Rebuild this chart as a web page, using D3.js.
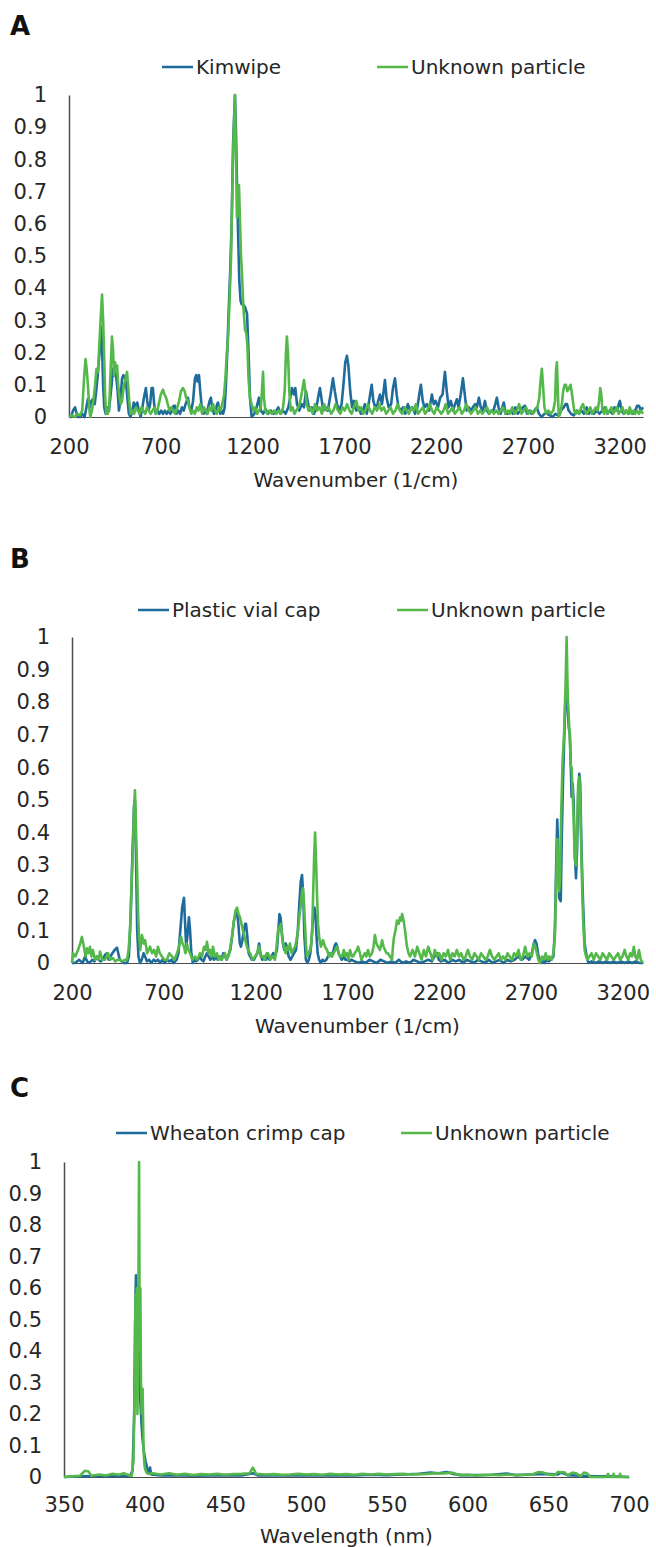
<!DOCTYPE html>
<html lang="en">
<head>
    <meta charset="utf-8">
    <title>Raman spectra comparison</title>
    <script src="https://d3js.org/d3.v7.min.js"></script>
    <style>
        html, body {
            margin: 0;
            padding: 0;
            background: #fff;
        }
        text {
            font-family: "DejaVu Sans", sans-serif;
            font-size: 20px;
            fill: #262626;
        }
        .panel-letter {
            font-size: 26px;
            font-weight: bold;
            fill: #111;
        }
        path.spec {
            fill: none;
            stroke-width: 2.6px;
            stroke-linejoin: round;
        }
        .axis .domain {
            stroke: #4d4d4d;
        }
    </style>
</head>
<body>
<script type="text/javascript">

    // ---- data ----
    var wnTicks = [200, 700, 1200, 1700, 2200, 2700, 3200];
    var nmTicks = [350, 400, 450, 500, 550, 600, 650, 700];
    var yTicks = [0, 0.1, 0.2, 0.3, 0.4, 0.5, 0.6, 0.7, 0.8, 0.9, 1];

    // A: Kimwipe [wavenumber, normalized intensity]
    var kimwipe = [[200,0],[212,0],[222,0.02],[233,0.03],[242,0.01],[252,0],[262,0],[272,0.01],[285,0],[295,0.03],[303,0.056],[312,0.03],[322,0.05],[331,0.056],[340,0.04],[348,0.08],[355,0.12],[362,0.17],[368,0.21],[375,0.28],[381,0.2],[386,0.1],[392,0.03],[400,0.01],[410,0.03],[418,0.02],[425,0.06],[432,0.1],[440,0.15],[446,0.13],[451,0.14],[458,0.12],[465,0.08],[472,0.02],[480,0.05],[489,0.12],[496,0.13],[505,0.12],[512,0.1],[518,0.06],[526,0.01],[535,0],[545,0.02],[553,0.045],[562,0.03],[572,0.045],[580,0.02],[590,0],[600,0.03],[608,0.06],[619,0.09],[626,0.05],[634,0.02],[642,0.04],[650,0.09],[657,0.09],[664,0.04],[672,0.01],[682,0.02],[692,0.01],[702,0.02],[712,0.01],[722,0.02],[732,0.01],[742,0.02],[752,0.01],[762,0.02],[770,0.035],[777,0.035],[785,0.01],[795,0.02],[805,0.01],[815,0.03],[825,0.02],[835,0.04],[848,0.06],[856,0.03],[866,0.02],[876,0.05],[886,0.12],[893,0.13],[900,0.11],[908,0.13],[915,0.08],[923,0.03],[932,0.01],[942,0.02],[950,0.01],[958,0.03],[966,0.05],[973,0.06],[980,0.03],[990,0.01],[1000,0.02],[1007,0.04],[1012,0.045],[1018,0.02],[1025,0.01],[1033,0.02],[1040,0.01],[1048,0.03],[1055,0.1],[1062,0.2],[1070,0.33],[1078,0.45],[1086,0.6],[1094,0.85],[1104,1],[1110,0.88],[1116,0.7],[1122,0.55],[1128,0.42],[1135,0.36],[1141,0.35],[1148,0.35],[1160,0.34],[1170,0.32],[1178,0.2],[1186,0.06],[1195,0],[1210,0.01],[1222,0.03],[1235,0.06],[1245,0.02],[1258,0.01],[1270,0.025],[1285,0.01],[1300,0.02],[1315,0.01],[1330,0.02],[1340,0.03],[1352,0.01],[1365,0.02],[1380,0.01],[1395,0.03],[1405,0.06],[1415,0.09],[1425,0.07],[1433,0.09],[1442,0.04],[1455,0.02],[1468,0.04],[1480,0.03],[1491,0.08],[1500,0.05],[1510,0.02],[1522,0.03],[1535,0.01],[1548,0.03],[1560,0.07],[1567,0.09],[1575,0.06],[1585,0.02],[1598,0.03],[1610,0.02],[1625,0.07],[1638,0.12],[1648,0.08],[1660,0.04],[1672,0.02],[1685,0.04],[1695,0.1],[1705,0.17],[1714,0.19],[1722,0.16],[1732,0.08],[1742,0.03],[1752,0.05],[1765,0.02],[1780,0.03],[1790,0.01],[1800,0.02],[1812,0.04],[1822,0.01],[1835,0.05],[1849,0.1],[1858,0.05],[1868,0.03],[1880,0.04],[1894,0.07],[1905,0.04],[1914,0.08],[1921,0.115],[1930,0.06],[1942,0.03],[1955,0.04],[1965,0.09],[1976,0.12],[1985,0.07],[1995,0.03],[2008,0.02],[2020,0.03],[2032,0.01],[2046,0.04],[2058,0.02],[2070,0.03],[2085,0.01],[2098,0.03],[2108,0.07],[2117,0.1],[2127,0.05],[2137,0.03],[2150,0.04],[2162,0.02],[2177,0.07],[2187,0.04],[2197,0.05],[2210,0.03],[2222,0.06],[2235,0.07],[2248,0.14],[2258,0.08],[2268,0.03],[2280,0.05],[2292,0.02],[2303,0.04],[2313,0.055],[2322,0.03],[2334,0.07],[2346,0.12],[2356,0.07],[2366,0.02],[2378,0.03],[2390,0.02],[2400,0.03],[2412,0.04],[2422,0.03],[2433,0.06],[2443,0.03],[2455,0.02],[2466,0.05],[2476,0.02],[2488,0.01],[2500,0.02],[2512,0.02],[2522,0.04],[2531,0.06],[2540,0.03],[2552,0.01],[2560,0.03],[2569,0.045],[2578,0.01],[2590,0.01],[2605,0.02],[2618,0.01],[2632,0.03],[2645,0.01],[2660,0.02],[2672,0.03],[2684,0.035],[2695,0.01],[2708,0.02],[2720,0.01],[2735,0.02],[2749,0.03],[2760,0.01],[2775,0],[2790,0.01],[2805,0.01],[2820,0.005],[2835,0],[2850,0.01],[2865,0.005],[2880,0.02],[2895,0.03],[2905,0.04],[2913,0.04],[2922,0.02],[2935,0.01],[2950,0.005],[2965,0.02],[2978,0.01],[2992,0.02],[3005,0.01],[3020,0.03],[3032,0.01],[3045,0.02],[3060,0.01],[3075,0.02],[3090,0.01],[3105,0.02],[3120,0.03],[3132,0.01],[3145,0.02],[3160,0.01],[3172,0.03],[3185,0.02],[3195,0.04],[3201,0.05],[3210,0.02],[3222,0.01],[3235,0.02],[3248,0.01],[3260,0.02],[3272,0.01],[3285,0.02],[3295,0.035],[3305,0.035],[3315,0.02],[3327,0.03]];

    // A: Unknown particle
    var unknownA = [[200,0],[215,0.005],[230,0],[245,0.01],[260,0.005],[272,0.02],[282,0.12],[290,0.18],[296,0.15],[303,0.1],[310,0.03],[316,0],[325,0.02],[335,0.06],[342,0.1],[350,0.15],[358,0.14],[365,0.22],[372,0.3],[380,0.38],[386,0.3],[391,0.2],[397,0.06],[403,0.01],[412,0.01],[420,0.04],[427,0.15],[434,0.25],[440,0.21],[445,0.13],[451,0.17],[457,0.14],[462,0.16],[468,0.1],[475,0.06],[482,0.04],[489,0.05],[495,0.08],[500,0.1],[508,0.12],[516,0.14],[522,0.1],[528,0.05],[535,0.01],[545,0.02],[555,0.01],[565,0.03],[575,0.02],[585,0.01],[595,0.03],[605,0.02],[615,0.01],[625,0.03],[635,0.02],[645,0.01],[655,0.02],[665,0.03],[675,0.01],[685,0.03],[693,0.05],[700,0.07],[712,0.085],[720,0.07],[729,0.06],[738,0.04],[748,0.02],[758,0.03],[768,0.02],[778,0.01],[790,0.03],[800,0.05],[810,0.08],[821,0.09],[830,0.08],[838,0.06],[848,0.05],[856,0.03],[866,0.01],[876,0.02],[886,0.01],[896,0.03],[905,0.02],[915,0.04],[925,0.01],[935,0.03],[945,0.02],[955,0.01],[965,0.03],[975,0.02],[985,0.04],[995,0.02],[1005,0.01],[1015,0.03],[1025,0.02],[1035,0.04],[1045,0.07],[1052,0.12],[1060,0.2],[1066,0.24],[1074,0.35],[1083,0.5],[1093,0.8],[1104,1],[1110,0.8],[1115,0.62],[1120,0.66],[1126,0.72],[1131,0.62],[1137,0.5],[1142,0.45],[1150,0.34],[1159,0.27],[1166,0.26],[1172,0.22],[1178,0.12],[1186,0.06],[1195,0.04],[1205,0.02],[1215,0.03],[1225,0.01],[1235,0.02],[1245,0.03],[1251,0.08],[1257,0.14],[1262,0.06],[1270,0.02],[1280,0.01],[1292,0.02],[1305,0.01],[1318,0.02],[1330,0.01],[1342,0.02],[1355,0.01],[1366,0.03],[1375,0.08],[1382,0.2],[1387,0.25],[1393,0.2],[1400,0.08],[1408,0.02],[1418,0.03],[1428,0.01],[1438,0.02],[1450,0.03],[1460,0.05],[1470,0.08],[1480,0.115],[1488,0.08],[1496,0.04],[1505,0.02],[1515,0.03],[1528,0.01],[1540,0.04],[1552,0.02],[1565,0.03],[1578,0.01],[1590,0.04],[1602,0.02],[1615,0.03],[1628,0.01],[1640,0.02],[1652,0.04],[1665,0.02],[1678,0.01],[1690,0.03],[1702,0.02],[1715,0.04],[1728,0.02],[1740,0.01],[1752,0.03],[1765,0.05],[1778,0.02],[1790,0.03],[1802,0.01],[1815,0.02],[1828,0.04],[1840,0.02],[1852,0.01],[1865,0.03],[1878,0.02],[1890,0.04],[1902,0.02],[1915,0.03],[1928,0.01],[1940,0.02],[1952,0.03],[1965,0.01],[1978,0.02],[1990,0.04],[2002,0.02],[2015,0.01],[2028,0.03],[2040,0.02],[2052,0.01],[2065,0.03],[2078,0.02],[2090,0.04],[2102,0.01],[2115,0.02],[2128,0.03],[2140,0.01],[2152,0.02],[2165,0.04],[2178,0.02],[2190,0.01],[2202,0.03],[2215,0.02],[2228,0.01],[2240,0.02],[2252,0.04],[2265,0.01],[2278,0.02],[2290,0.03],[2302,0.01],[2315,0.02],[2328,0.03],[2340,0.01],[2352,0.02],[2365,0.04],[2378,0.02],[2390,0.01],[2402,0.02],[2415,0.03],[2428,0.01],[2440,0.02],[2452,0.01],[2465,0.02],[2478,0.03],[2490,0.01],[2502,0.02],[2515,0.01],[2528,0.02],[2540,0.01],[2552,0.02],[2565,0.03],[2578,0.01],[2590,0.02],[2602,0.01],[2615,0.03],[2628,0.01],[2640,0.02],[2652,0.04],[2665,0.01],[2678,0.02],[2690,0.03],[2702,0.01],[2715,0.02],[2728,0.01],[2740,0.02],[2752,0.03],[2762,0.06],[2770,0.12],[2776,0.15],[2782,0.1],[2790,0.03],[2800,0.01],[2812,0.02],[2825,0.01],[2838,0.02],[2848,0.05],[2853,0.14],[2858,0.17],[2863,0.08],[2868,0],[2876,0.01],[2885,0.04],[2892,0.08],[2900,0.1],[2907,0.1],[2915,0.08],[2924,0.09],[2932,0.1],[2938,0.08],[2945,0.05],[2952,0.02],[2960,0.01],[2970,0.02],[2980,0.01],[2990,0.03],[3000,0.04],[3010,0.02],[3020,0.01],[3030,0.02],[3040,0.03],[3050,0.01],[3060,0.02],[3070,0.03],[3080,0.02],[3088,0.05],[3094,0.09],[3100,0.07],[3106,0.02],[3115,0.01],[3125,0.03],[3135,0.01],[3145,0.02],[3155,0.03],[3165,0.01],[3175,0.02],[3185,0.03],[3195,0.01],[3205,0.02],[3215,0.03],[3225,0.01],[3235,0.02],[3245,0.01],[3255,0.03],[3265,0.01],[3275,0.02],[3285,0.01],[3295,0.02],[3305,0.01],[3315,0.02],[3327,0.01]];

    // B: Plastic vial cap
    var vialCap = [[200,0],[215,0],[228,0.005],[238,0.01],[248,0.005],[258,0],[271,0.02],[282,0.005],[295,0],[310,0.01],[322,0.005],[335,0.02],[345,0.01],[355,0.005],[368,0.01],[380,0.025],[391,0.03],[400,0.01],[410,0.02],[420,0.03],[432,0.04],[445,0.047],[452,0.03],[460,0.01],[470,0.005],[480,0],[490,0],[500,0],[510,0.02],[520,0.15],[530,0.35],[538,0.48],[543,0.5],[548,0.35],[555,0.1],[562,0.02],[570,0],[580,0.01],[590,0.03],[598,0.02],[608,0.005],[620,0.01],[632,0],[645,0.01],[655,0.005],[668,0.01],[680,0],[692,0.01],[705,0],[718,0.01],[730,0.005],[742,0.01],[752,0],[762,0.005],[770,0.01],[780,0.03],[790,0.1],[800,0.17],[810,0.2],[816,0.12],[822,0.05],[828,0.08],[837,0.14],[843,0.1],[850,0.03],[858,0],[866,0.01],[876,0.005],[886,0.01],[896,0.02],[906,0.01],[916,0.005],[926,0.02],[935,0.03],[944,0.02],[954,0.01],[964,0.02],[974,0.01],[984,0.02],[994,0.01],[1004,0.02],[1014,0.01],[1024,0.03],[1034,0.02],[1042,0.01],[1050,0.02],[1062,0.04],[1072,0.08],[1082,0.13],[1092,0.15],[1099,0.16],[1106,0.12],[1114,0.06],[1120,0.05],[1128,0.07],[1136,0.1],[1143,0.12],[1148,0.12],[1155,0.08],[1162,0.03],[1170,0.02],[1180,0.01],[1190,0.01],[1200,0.02],[1210,0.03],[1219,0.06],[1226,0.03],[1236,0.01],[1246,0.02],[1256,0.01],[1266,0.02],[1276,0.01],[1286,0.02],[1296,0.03],[1306,0.02],[1316,0.04],[1324,0.1],[1330,0.15],[1336,0.14],[1342,0.1],[1349,0.06],[1356,0.04],[1364,0.06],[1371,0.05],[1380,0.02],[1390,0.01],[1400,0.02],[1410,0.03],[1420,0.04],[1430,0.1],[1438,0.18],[1446,0.25],[1453,0.27],[1460,0.2],[1466,0.08],[1474,0.01],[1482,0],[1490,0.01],[1498,0.03],[1506,0.08],[1513,0.14],[1520,0.17],[1526,0.15],[1532,0.08],[1538,0.03],[1546,0.01],[1555,0],[1565,0.01],[1575,0.005],[1585,0.01],[1595,0.02],[1605,0.03],[1615,0.02],[1625,0.04],[1632,0.055],[1638,0.06],[1645,0.05],[1652,0.03],[1660,0.02],[1670,0.01],[1680,0.02],[1690,0.01],[1700,0.01],[1710,0.005],[1720,0.01],[1740,0.005],[1760,0],[1780,0.005],[1800,0],[1820,0.01],[1840,0.005],[1860,0],[1880,0.01],[1900,0.005],[1920,0],[1940,0.005],[1960,0],[1980,0.01],[2000,0],[2020,0.005],[2040,0],[2060,0.01],[2080,0.005],[2100,0],[2120,0.005],[2140,0.01],[2160,0.005],[2175,0.02],[2188,0.03],[2198,0.01],[2210,0.005],[2230,0.01],[2250,0],[2270,0.01],[2290,0.005],[2310,0.01],[2330,0],[2350,0.01],[2370,0.005],[2390,0],[2410,0.01],[2430,0.005],[2450,0],[2470,0.01],[2490,0],[2510,0.005],[2530,0.01],[2550,0],[2570,0.01],[2590,0.005],[2610,0.01],[2630,0.02],[2650,0.01],[2670,0.02],[2690,0.01],[2705,0.03],[2715,0.06],[2722,0.07],[2730,0.06],[2738,0.03],[2746,0.01],[2755,0],[2765,0.01],[2775,0],[2785,0.01],[2795,0.005],[2810,0.01],[2822,0.02],[2830,0.1],[2837,0.3],[2843,0.44],[2848,0.35],[2853,0.2],[2862,0.19],[2868,0.4],[2874,0.55],[2880,0.67],[2887,0.8],[2894,0.85],[2900,0.78],[2906,0.72],[2912,0.7],[2917,0.6],[2921,0.51],[2927,0.55],[2932,0.5],[2938,0.35],[2945,0.26],[2951,0.35],[2957,0.52],[2963,0.58],[2968,0.55],[2975,0.35],[2980,0.25],[2985,0.16],[2992,0.06],[3003,0.02],[3012,0],[3030,0.005],[3050,0],[3070,0.005],[3090,0],[3110,0.005],[3130,0],[3150,0.005],[3170,0],[3190,0.005],[3210,0],[3230,0.005],[3250,0],[3270,0.005],[3290,0],[3310,0]];

    // B: Unknown particle
    var unknownB = [[200,0],[205,0.03],[218,0.02],[233,0.04],[245,0.06],[254,0.08],[265,0.05],[274,0.02],[282,0.045],[290,0.03],[298,0.05],[306,0.02],[314,0.04],[325,0.01],[336,0.02],[345,0.01],[353,0.035],[365,0.01],[380,0.01],[388,0.02],[396,0.03],[408,0.01],[423,0.015],[435,0.005],[450,0.01],[461,0.01],[475,0.005],[490,0.01],[500,0.01],[508,0.04],[516,0.1],[525,0.25],[532,0.35],[538,0.48],[543,0.53],[549,0.4],[554,0.3],[560,0.15],[565,0.08],[572,0.04],[581,0.086],[590,0.06],[598,0.07],[604,0.05],[609,0.03],[617,0.04],[625,0.05],[636,0.03],[647,0.04],[658,0.02],[668,0.05],[678,0.03],[690,0.02],[703,0.01],[717,0.01],[730,0.03],[745,0.02],[758,0.01],[772,0.03],[783,0.05],[794,0.08],[802,0.06],[810,0.05],[818,0.03],[826,0.06],[834,0.04],[843,0.03],[856,0.01],[870,0.02],[882,0.01],[897,0.03],[908,0.02],[919,0.05],[928,0.04],[935,0.065],[944,0.03],[952,0.04],[960,0.02],[968,0.05],[978,0.02],[990,0.03],[998,0.01],[1006,0.02],[1016,0.01],[1025,0.02],[1033,0.03],[1042,0.01],[1050,0.02],[1060,0.04],[1071,0.08],[1080,0.12],[1090,0.16],[1099,0.17],[1107,0.15],[1115,0.14],[1123,0.12],[1131,0.1],[1140,0.08],[1148,0.06],[1158,0.04],[1170,0.03],[1183,0.01],[1197,0.02],[1208,0.03],[1219,0.05],[1228,0.02],[1240,0.02],[1250,0.01],[1260,0.03],[1268,0.03],[1280,0.01],[1288,0.02],[1295,0.02],[1305,0.01],[1314,0.05],[1322,0.1],[1330,0.11],[1338,0.12],[1346,0.07],[1355,0.05],[1364,0.03],[1372,0.05],[1380,0.04],[1387,0.06],[1396,0.03],[1405,0.04],[1415,0.05],[1423,0.07],[1431,0.1],[1440,0.15],[1447,0.18],[1453,0.22],[1458,0.23],[1464,0.18],[1469,0.12],[1475,0.05],[1480,0.02],[1490,0.03],[1502,0.05],[1508,0.1],[1513,0.2],[1519,0.33],[1524,0.4],[1530,0.3],[1535,0.2],[1540,0.12],[1546,0.08],[1556,0.05],[1567,0.07],[1578,0.05],[1589,0.04],[1600,0.02],[1609,0.03],[1616,0.02],[1625,0.03],[1634,0.04],[1643,0.05],[1652,0.03],[1661,0.02],[1671,0.02],[1680,0.04],[1690,0.02],[1698,0.03],[1706,0.01],[1714,0.04],[1725,0.02],[1731,0.02],[1740,0.03],[1752,0.04],[1758,0.05],[1768,0.03],[1776,0.01],[1785,0.02],[1795,0.03],[1803,0.02],[1812,0.04],[1822,0.02],[1834,0.03],[1842,0.05],[1850,0.086],[1858,0.06],[1867,0.05],[1877,0.04],[1889,0.07],[1897,0.05],[1905,0.04],[1913,0.03],[1921,0.03],[1932,0.02],[1943,0.01],[1948,0.05],[1954,0.08],[1962,0.1],[1970,0.13],[1979,0.12],[1987,0.14],[1993,0.13],[1998,0.15],[2006,0.13],[2014,0.1],[2020,0.07],[2025,0.05],[2033,0.03],[2041,0.02],[2055,0.04],[2068,0.02],[2080,0.05],[2092,0.03],[2104,0.01],[2116,0.04],[2128,0.02],[2140,0.05],[2152,0.03],[2164,0.01],[2176,0.04],[2188,0.02],[2200,0.03],[2212,0.01],[2224,0.03],[2236,0.02],[2248,0.04],[2260,0.01],[2272,0.03],[2284,0.02],[2296,0.04],[2308,0.02],[2320,0.03],[2332,0.01],[2344,0.02],[2356,0.04],[2368,0.02],[2380,0.01],[2392,0.03],[2404,0.02],[2416,0.01],[2428,0.03],[2440,0.02],[2452,0.01],[2464,0.02],[2476,0.04],[2488,0.02],[2500,0.01],[2512,0.02],[2524,0.03],[2536,0.01],[2548,0.02],[2560,0.01],[2572,0.03],[2584,0.02],[2596,0.01],[2608,0.03],[2620,0.02],[2632,0.04],[2644,0.01],[2656,0.02],[2668,0.05],[2680,0.02],[2692,0.03],[2704,0.02],[2716,0.06],[2724,0.05],[2732,0.03],[2740,0.01],[2750,0],[2760,0.02],[2770,0.01],[2780,0.03],[2790,0.01],[2800,0.02],[2812,0.01],[2822,0.03],[2830,0.08],[2837,0.25],[2843,0.38],[2848,0.3],[2853,0.22],[2858,0.25],[2864,0.45],[2872,0.62],[2880,0.7],[2888,0.85],[2894,1],[2900,0.82],[2906,0.75],[2912,0.68],[2917,0.6],[2921,0.6],[2927,0.52],[2932,0.45],[2938,0.32],[2945,0.3],[2951,0.4],[2957,0.55],[2963,0.57],[2968,0.5],[2975,0.32],[2980,0.2],[2985,0.12],[2992,0.04],[3000,0.02],[3008,0.01],[3018,0.02],[3030,0.03],[3042,0.01],[3054,0.03],[3066,0.02],[3078,0.01],[3090,0.03],[3102,0.02],[3114,0.01],[3126,0.03],[3138,0.02],[3150,0.01],[3162,0.02],[3174,0.03],[3186,0.01],[3198,0.02],[3210,0.04],[3220,0.02],[3230,0.01],[3240,0.03],[3250,0.02],[3260,0.05],[3268,0.02],[3278,0.01],[3288,0.04],[3298,0.01],[3310,0]];

    // C: Wheaton crimp cap [wavelength nm, normalized intensity]
    var wheaton = [[350,0],[360,0.002],[370,0.003],[380,0.004],[388,0.003],[391,0.005],[392.5,0.02],[393.5,0.2],[394.2,0.55],[394.6,0.64],[395,0.58],[395.5,0.6],[396,0.45],[396.8,0.3],[397.5,0.22],[398.5,0.13],[399.5,0.08],[400.5,0.05],[401.5,0.03],[402.5,0.015],[403.3,0.03],[404,0.008],[410,0.005],[420,0.006],[430,0.004],[440,0.005],[450,0.006],[460,0.005],[467,0.012],[470,0.005],[480,0.006],[490,0.005],[500,0.006],[510,0.005],[520,0.006],[530,0.005],[540,0.007],[550,0.006],[560,0.008],[570,0.01],[577,0.014],[582,0.012],[587,0.016],[591,0.01],[596,0.006],[605,0.006],[615,0.007],[624,0.011],[630,0.006],[640,0.008],[648,0.01],[656,0.008],[658,0.014],[662,0.006],[670,0.004],[680,0.002],[690,0.002],[700,0]];

    // C: Unknown particle
    var unknownC = [[350,0],[355,0.002],[360,0.004],[363,0.02],[365,0.018],[367,0.004],[372,0.008],[376,0.005],[380,0.01],[384,0.007],[387,0.012],[390,0.006],[392,0.004],[393,0.05],[393.8,0.3],[394.3,0.58],[394.7,0.25],[395.1,0.6],[395.5,0.2],[396,0.5],[396.5,1],[396.9,0.4],[397.3,0.6],[397.7,0.3],[398.2,0.2],[398.7,0.28],[399.3,0.08],[400,0.03],[401,0.015],[402,0.01],[405,0.012],[410,0.008],[415,0.012],[420,0.007],[425,0.01],[430,0.006],[435,0.009],[440,0.008],[445,0.01],[450,0.007],[455,0.009],[460,0.01],[465,0.012],[467,0.03],[469,0.01],[475,0.008],[480,0.009],[485,0.007],[490,0.008],[495,0.01],[500,0.008],[505,0.009],[510,0.007],[515,0.01],[520,0.008],[525,0.009],[530,0.007],[535,0.01],[540,0.008],[545,0.01],[550,0.008],[555,0.009],[560,0.01],[565,0.008],[570,0.009],[575,0.01],[580,0.012],[585,0.011],[590,0.014],[595,0.006],[600,0.007],[605,0.005],[610,0.006],[615,0.007],[620,0.006],[625,0.008],[630,0.006],[635,0.007],[640,0.008],[644,0.016],[647,0.014],[650,0.008],[654,0.006],[656,0.016],[658,0.015],[660,0.015],[662,0.005],[665,0.014],[667,0.012],[670,0.003],[672,0.014],[674,0.012],[676,0],[686,0],[687,0.01],[688,0],[690,0],[690.5,0.01],[691,0],[694,0],[694.5,0.01],[695,0],[700,0]];

    var blue = "#1f6c9c";
    var green = "#55b84a";

    //Width and height
    var w = 656;
    var h = 1547;

    var svg = d3.select("body")
        .append("svg")
        .attr("width", w)
        .attr("height", h);

    var panels = [
        { letter: "A", letterY: 35, legendY: 67,
          names: ["Kimwipe", "Unknown particle"], legX: [162, 377],
          series: [kimwipe, unknownA], xDomain: [200, 3327], xTicks: wnTicks,
          left: 69, right: 643, top: 95, bottom: 417,
          xTitle: "Wavenumber (1/cm)", labelY: 447, titleY: 480 },
        { letter: "B", letterY: 568, legendY: 610,
          names: ["Plastic vial cap", "Unknown particle"], legX: [138, 397],
          series: [vialCap, unknownB], xDomain: [200, 3310], xTicks: wnTicks,
          left: 72, right: 643, top: 637, bottom: 963,
          xTitle: "Wavenumber (1/cm)", labelY: 993, titleY: 1026 },
        { letter: "C", letterY: 1097, legendY: 1133,
          names: ["Wheaton crimp cap", "Unknown particle"], legX: [116, 401],
          series: [wheaton, unknownC], xDomain: [350, 700], xTicks: nmTicks,
          left: 64, right: 629, top: 1162, bottom: 1477,
          xTitle: "Wavelength (nm)", labelY: 1505, titleY: 1536 }
    ];

    panels.forEach(function(p) {
        var xScale = d3.scaleLinear().domain(p.xDomain).range([p.left, p.right]);
        var yScale = d3.scaleLinear().domain([0, 1]).range([p.bottom, p.top]);

        // panel letter
        svg.append("text")
            .attr("class", "panel-letter")
            .attr("x", 10)
            .attr("y", p.letterY)
            .text(p.letter);

        // legend
        var colors = [blue, green];
        p.names.forEach(function(name, i) {
            svg.append("line")
                .attr("x1", p.legX[i]).attr("x2", p.legX[i] + 31)
                .attr("y1", p.legendY).attr("y2", p.legendY)
                .attr("stroke", colors[i])
                .attr("stroke-width", 2.5);
            svg.append("text")
                .attr("x", p.legX[i] + 34)
                .attr("y", p.legendY)
                .attr("dy", "0.35em")
                .text(name);
        });

        // x axis (line at zero, no tick marks)
        var xAxis = svg.append("g")
            .attr("class", "axis")
            .attr("transform", "translate(0," + p.bottom + ")")
            .call(d3.axisBottom(xScale).tickValues(p.xTicks).tickSize(0).tickSizeOuter(0)
                .tickFormat(d3.format("d")));
        xAxis.select(".domain").attr("stroke-width", 1);
        xAxis.selectAll("text")
            .attr("y", p.labelY - p.bottom)
            .attr("dy", "0.35em")
            .style("font-size", "21px")
            .style("font-family", "DejaVu Sans")
            .attr("fill", "#262626");

        // y axis
        var yAxis = svg.append("g")
            .attr("class", "axis")
            .attr("transform", "translate(" + p.left + ",0)")
            .call(d3.axisLeft(yScale).tickValues(yTicks).tickSize(0).tickSizeOuter(0)
                .tickPadding(22).tickFormat(function(d) { return String(+d.toFixed(1)); }));
        yAxis.select(".domain").attr("stroke-width", 1.5).attr("stroke", "#333");
        yAxis.selectAll("text")
            .style("font-size", "21px")
            .style("font-family", "DejaVu Sans")
            .attr("fill", "#262626");

        // spectra
        var line = d3.line()
            .x(function(d) { return xScale(d[0]); })
            .y(function(d) { return yScale(d[1]); });

        p.series.forEach(function(s, i) {
            svg.append("path")
                .datum(s)
                .attr("class", "spec")
                .attr("stroke", colors[i])
                .attr("d", line);
        });

        // axis title
        svg.append("text")
            .attr("x", (p.left + p.right) / 2)
            .attr("y", p.titleY)
            .attr("dy", "0.35em")
            .attr("text-anchor", "middle")
            .text(p.xTitle);
    });

</script>
</body>
</html>
